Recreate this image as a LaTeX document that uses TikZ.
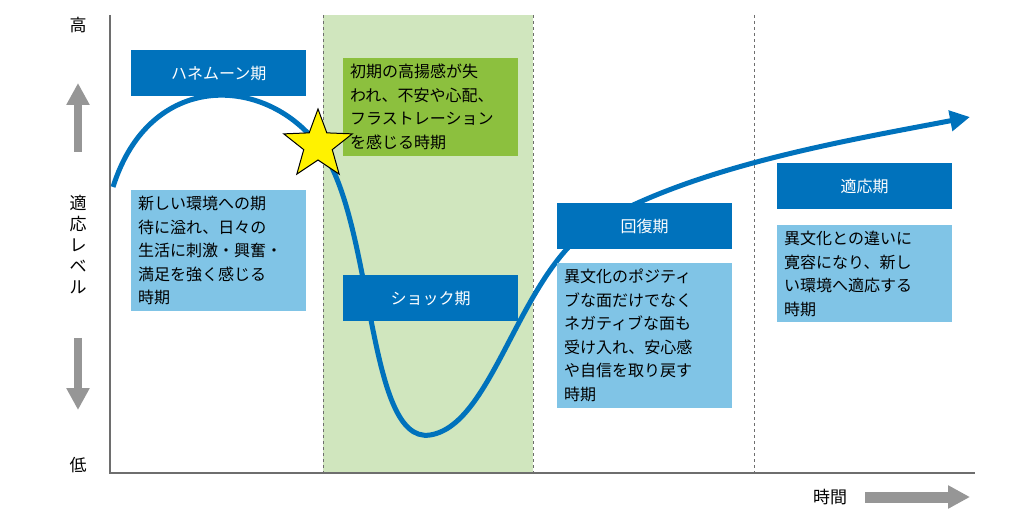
\documentclass[tikz,border=0pt]{standalone}
\usepackage{fontspec}
\setmainfont{Noto Sans CJK JP}
\usetikzlibrary{arrows.meta,shapes.geometric}
\definecolor{darkblue}{RGB}{0,114,188}
\definecolor{lightblue}{RGB}{128,196,230}
\definecolor{bandgreen}{RGB}{208,230,190}
\definecolor{boxgreen}{RGB}{140,192,62}
\definecolor{axisgray}{RGB}{110,110,110}
\definecolor{arrowgray}{RGB}{150,150,150}
\tikzset{
  phasebox/.style={fill=darkblue,text=white,anchor=north west,minimum width=175pt,minimum height=46pt,inner sep=0pt,font=\fontsize{16}{20}\selectfont},
  notebox/.style={fill=lightblue,text=black,anchor=north west,text width=161pt,align=left,inner xsep=7pt,inner ysep=6pt,font=\fontsize{16}{23.5}\selectfont},
  bigarrow/.style={draw=arrowgray,-{Triangle[length=22pt,width=22pt]}}
}
\begin{document}
\begin{tikzpicture}[x=1pt,y=1pt,yscale=-1,xscale=1]
\useasboundingbox (0,0) rectangle (1030,518);

%band and dashed lines
\fill[bandgreen] (323,15) rectangle (533,473);
\draw[axisgray,dashed] (323,15) -- (323,473);
\draw[axisgray,dashed] (533,15) -- (533,473);
\draw[axisgray,dashed] (754,15) -- (754,473);

%axes
\draw[axisgray,line width=2pt] (110,15) -- (110,473) -- (975,473);

%level axis labels
\node (high) at (78,25) {\fontsize{17}{20}\selectfont 高};
\node (low) at (78,465) {\fontsize{17}{20}\selectfont 低};
\node[align=center,font=\fontsize{17}{21}\selectfont] (level) at (78,245) {適\\応\\レ\\ベ\\ル};
\coordinate (upa) at (78,152);
\coordinate (upb) at (78,83);
\coordinate (dna) at (78,338);
\coordinate (dnb) at (78,410);
\draw[bigarrow,line width=8pt] (upa) -- (upb);
\draw[bigarrow,line width=8pt] (dna) -- (dnb);
\node (time) at (830,497) {\fontsize{17}{20}\selectfont 時間};
\coordinate (ta) at (865,497);
\coordinate (tb) at (970,497);
\draw[bigarrow,line width=11pt] (ta) -- (tb);

%curve
\coordinate (c0) at (113,187);
\coordinate (cs) at (318,145);
\coordinate (cb) at (430,435);
\coordinate (cr) at (600,222);
\coordinate (ce) at (970,117);
\draw[darkblue,line width=5pt,-{Triangle[length=20pt,width=20pt]}]
  (c0) .. controls (150,70) and (265,75) .. (cs)
  .. controls (375,215) and (365,445) .. (cb)
  .. controls (495,425) and (520,265) .. (cr)
  .. controls (700,165) and (850,140) .. (ce);

%boxes
\node[phasebox] (honey) at (131,50) {ハネムーン期};
\node[notebox] (honeynote) at (131,190) {新しい環境への期\\待に溢れ、日々の\\生活に刺激・興奮・\\満足を強く感じる\\時期};
\node[notebox,fill=boxgreen] (shocknote) at (343,58) {初期の高揚感が失\\われ、不安や心配、\\フラストレーション\\を感じる時期};
\node[phasebox] (shock) at (343,275) {ショック期};
\node[phasebox] (recov) at (557,203) {回復期};
\node[notebox] (recovnote) at (557,263) {異文化のポジティ\\ブな面だけでなく\\ネガティブな面も\\受け入れ、安心感\\や自信を取り戻す\\時期};
\node[phasebox] (adapt) at (777,163) {適応期};
\node[notebox] (adaptnote) at (777,225) {異文化との違いに\\寛容になり、新し\\い環境へ適応する\\時期};

%star
\node[star,star points=5,star point ratio=2.4,minimum size=72pt,fill=yellow,draw=black,line width=1pt,inner sep=0pt] (burst) at (318,145) {};
\end{tikzpicture}
\end{document}
